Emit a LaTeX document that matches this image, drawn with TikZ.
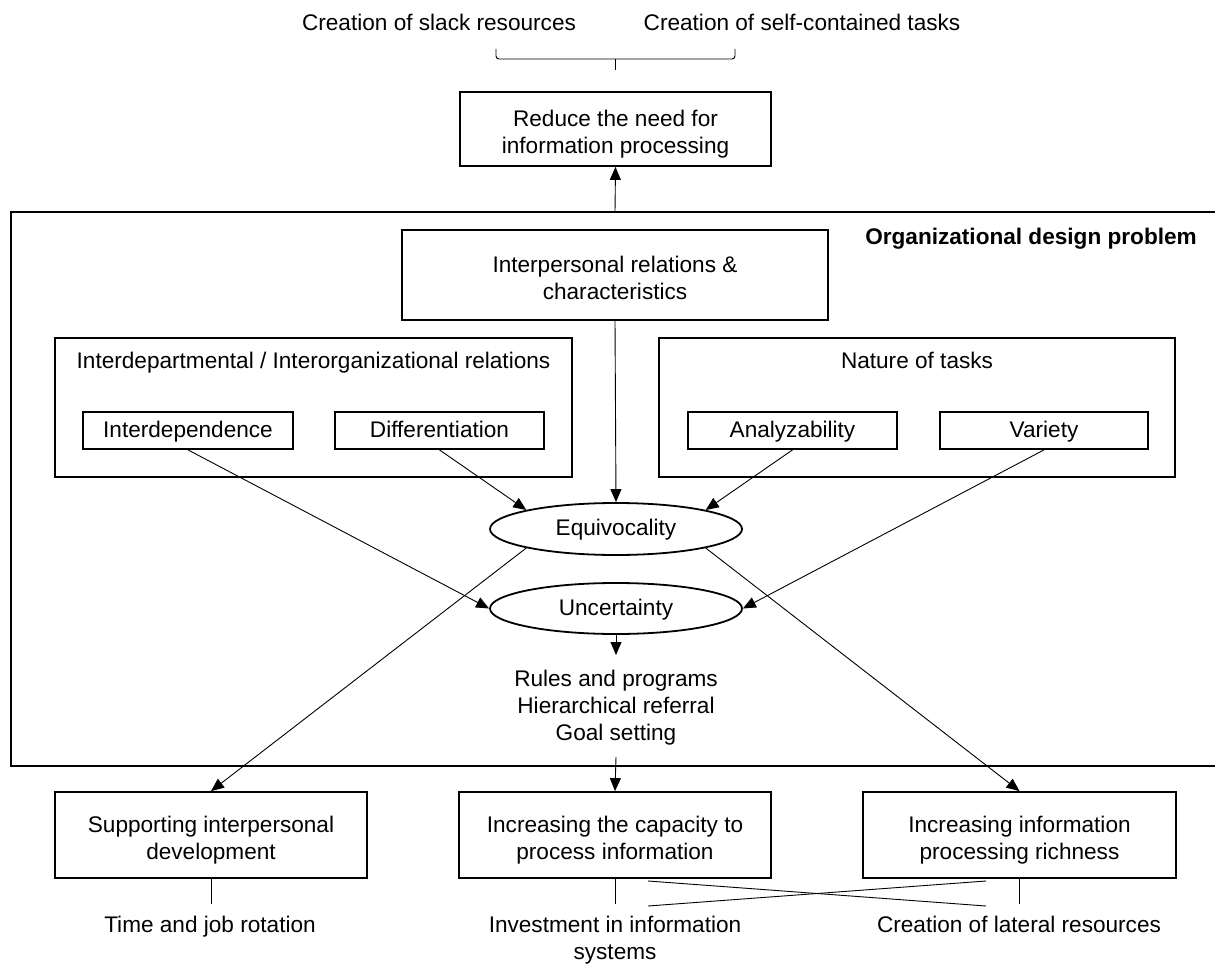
\documentclass[tikz,border=0pt]{standalone}
\usepackage{fontspec}
\setmainfont{Liberation Sans}
\usetikzlibrary{shapes.geometric,arrows.meta}
% invisible rules that give the text lines a fixed height and depth
\newcommand{\mystrut}{\rule[-6.2pt]{0pt}{25.5pt}}
\newcommand{\firststrut}{\rule[-6.2pt]{0pt}{34.5pt}}
\begin{document}
\begin{tikzpicture}[x=1pt,y=-1pt,
  every node/.style={font=\fontsize{22.6}{27}\selectfont, inner sep=0pt,
    execute at begin node=\mystrut},
  box/.style={draw, line width=1.8pt, align=center},
  oval/.style={ellipse, draw, line width=1.8pt},
  arr/.style={line width=0.9pt, -{Triangle[length=13pt,width=11pt]}},
  link/.style={line width=0.9pt},
  frameline/.style={line width=2.4pt},
]
\useasboundingbox (0,0) rectangle (1215,965);

% measures that remove the need for information processing
\node (slack) at (439,24) {Creation of slack resources};
\node (selfc) at (802,24) {Creation of self-contained tasks};
\coordinate (brL) at (496,49);
\coordinate (brR) at (735,49);
\coordinate (brM) at (615,59);
\coordinate (brT) at (615,70);
\draw[link, rounded corners=3pt] (brL) -- (brL |- brM) -- (brR |- brM) -- (brR);
\draw[link] (brM) -- (brT);
\node[box, minimum width=311pt, minimum height=74pt] (reduce) at (615.5,129)
  {\firststrut Reduce the need for\\\mystrut information processing};

% organizational design problem frame
\coordinate (ftop) at (615,212);
\draw[frameline] (1217,212) -- (11,212) -- (11,766) -- (1217,766);
\node[font=\fontsize{22.6}{27}\selectfont\bfseries] (orglabel) at (1031,238)
  {Organizational design problem};
\draw[arr] (ftop) -- (reduce.south);

\node[box, minimum width=426pt, minimum height=90pt] (ipr) at (615,275)
  {\firststrut Interpersonal relations \&\\\mystrut characteristics};

\node[box, minimum width=517pt, minimum height=139pt] (idr) at (313.5,407.5) {};
\node (idrtitle) at (313.5,362) {Interdepartmental / Interorganizational relations};
\node[box, minimum width=210pt, minimum height=37pt] (intd) at (188,430.5) {Interdependence};
\node[box, minimum width=209pt, minimum height=37pt] (diff) at (439.5,430.5) {Differentiation};

\node[box, minimum width=516pt, minimum height=139pt] (nat) at (917,407.5) {};
\node (nattitle) at (917,362) {Nature of tasks};
\node[box, minimum width=209pt, minimum height=37pt] (ana) at (792.5,430.5) {Analyzability};
\node[box, minimum width=208pt, minimum height=37pt] (var) at (1044,430.5) {Variety};

\node[oval, minimum width=252pt, minimum height=52pt] (equ) at (616,529) {Equivocality};
\node[oval, minimum width=252pt, minimum height=51pt] (unc) at (616,608.5) {Uncertainty};

\node[align=center] (rules) at (616,708)
  {Rules and programs\\\mystrut Hierarchical referral\\\mystrut Goal setting};
\coordinate (rtop) at (616,655);
\coordinate (rbot) at (616,757);

% connectors inside the frame
\draw[arr] (ipr.south) -- (equ.north);
\draw[arr] (diff.south) -- (equ.north west);
\draw[arr] (ana.south) -- (equ.north east);
\draw[arr] (intd.south) -- (unc.west);
\draw[arr] (var.south) -- (unc.east);
\draw[arr] (unc.south) -- (rtop);

% ways of coping
\node[box, minimum width=312pt, minimum height=86pt] (sup) at (211,835)
  {\firststrut Supporting interpersonal\\\mystrut development};
\node[box, minimum width=312pt, minimum height=86pt] (cap) at (615,835)
  {\firststrut Increasing the capacity to\\\mystrut process information};
\node[box, minimum width=313pt, minimum height=86pt] (rich) at (1019.5,835)
  {\firststrut Increasing information\\\mystrut processing richness};

\draw[arr] (rbot) -- (cap.north);
\draw[arr] (equ.south west) -- (sup.north);
\draw[arr] (equ.south east) -- (rich.north);

% means attached to each way
\node (tjr) at (210,926) {Time and job rotation};
\node[align=center] (iis) at (615,941) {Investment in information\\\mystrut systems};
\node (clr) at (1019,926) {Creation of lateral resources};

\draw[link] (sup.south) -- ++(0,25);
\draw[link] (cap.south) -- ++(0,25);
\draw[link] (rich.south) -- ++(0,25);

\coordinate (xa) at (648,881);
\coordinate (xb) at (986,906);
\coordinate (xc) at (648,906);
\coordinate (xd) at (986,881);
\draw[link] (xa) -- (xb);
\draw[link] (xc) -- (xd);
\end{tikzpicture}
\end{document}
